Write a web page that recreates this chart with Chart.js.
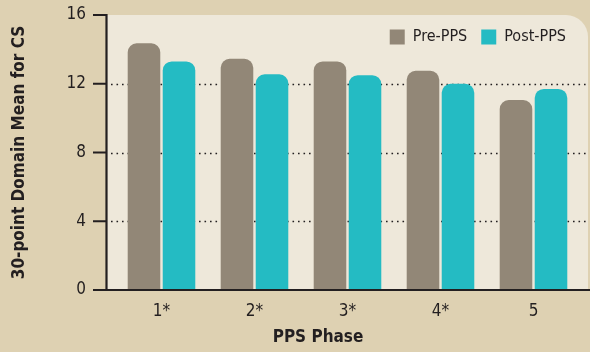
<!DOCTYPE html>
<html lang="en">
<head>
<meta charset="UTF-8">
<title>CS Domain Mean by PPS Phase</title>
<script src="https://cdn.jsdelivr.net/npm/chart.js"></script>
<style>
  body { margin: 0; background: #ded1b2; }
  #wrap { width: 590px; height: 352px; }
</style>
</head>
<body>
<div id="wrap"><canvas id="ppsChart" width="590" height="352"></canvas></div>
<script>
// phases, means before and after PPS, and the value axis ticks
const phases = ['1*', '2*', '3*', '4*', '5'];
const prePPS = [14.35, 13.45, 13.3, 12.75, 11.05];
const postPPS = [13.3, 12.55, 12.5, 12.0, 11.7];
const yTicks = [0, 4, 8, 12, 16];

const FONT = "'Liberation Sans Narrow', 'DejaVu Sans Condensed', sans-serif";
const INK = '#231f20';

// let the legend take no room at the top so it sits inside the plot panel
const legendInside = {
  id: 'legendInside',
  beforeInit(chart) {
    const legend = chart.legend;
    const fit = legend.fit;
    legend.fit = function () {
      fit.call(this);
      this._fullHeight = this.height;
      this.height = 0;
    };
  },
  afterLayout(chart) {
    const legend = chart.legend;
    legend.height = legend._fullHeight;
    legend.bottom = legend.top + legend.height;
  }
};

// panel background, dotted guides, hand drawn axis lines and the x title
const panelPlugin = {
  id: 'panel',
  beforeDraw(chart) {
    const ctx = chart.ctx, area = chart.chartArea, y = chart.scales.y;
    const left = area.left - 8, right = chart.width - 2, r = 22;
    ctx.save();
    ctx.fillStyle = '#ded1b2';
    ctx.fillRect(0, 0, chart.width, chart.height);
    ctx.fillStyle = '#eee8da';
    ctx.beginPath();
    ctx.moveTo(left, area.bottom);
    ctx.lineTo(left, area.top);
    ctx.lineTo(right - r, area.top);
    ctx.arcTo(right, area.top, right, area.top + r, r);
    ctx.lineTo(right, area.bottom);
    ctx.closePath();
    ctx.fill();

    ctx.strokeStyle = INK;
    ctx.lineWidth = 1.6;
    ctx.setLineDash([1.6, 3.9]);
    yTicks.slice(1, -1).forEach(v => {
      const py = Math.round(y.getPixelForValue(v)) + 0.5;
      ctx.beginPath();
      ctx.moveTo(left + 4, py);
      ctx.lineTo(right, py);
      ctx.stroke();
    });
    ctx.restore();
  },
  afterDatasetsDraw(chart) {
    const ctx = chart.ctx, area = chart.chartArea, y = chart.scales.y;
    const axisX = area.left - 8.5, tickStart = area.left - 22;
    ctx.save();
    ctx.strokeStyle = INK;
    ctx.lineWidth = 2.2;
    ctx.beginPath();
    ctx.moveTo(axisX, area.top - 1);
    ctx.lineTo(axisX, area.bottom);
    ctx.moveTo(tickStart, area.bottom);
    ctx.lineTo(chart.width, area.bottom);
    yTicks.slice(1).forEach(v => {
      const py = y.getPixelForValue(v);
      ctx.moveTo(tickStart, py);
      ctx.lineTo(axisX, py);
    });
    ctx.stroke();

    ctx.fillStyle = INK;
    ctx.font = 'bold 17px ' + FONT;
    ctx.textAlign = 'center';
    ctx.textBaseline = 'middle';
    ctx.fillText('PPS Phase', 318, 338);
    ctx.restore();
  }
};

new Chart(document.getElementById('ppsChart'), {
  type: 'bar',
  data: {
    labels: phases,
    datasets: [
      { label: 'Pre-PPS', data: prePPS, backgroundColor: '#928777' },
      { label: 'Post-PPS', data: postPPS, backgroundColor: '#24bbc3' }
    ]
  },
  options: {
    responsive: false,
    animation: false,
    layout: { padding: { top: 15, right: 10, left: 0, bottom: 0 } },
    datasets: {
      bar: { barPercentage: 0.93, categoryPercentage: 0.753, borderRadius: 9 }
    },
    scales: {
      x: {
        grid: { display: false, drawTicks: false },
        border: { display: false },
        ticks: { color: INK, padding: 11, font: { family: FONT, size: 17 } },
        afterFit(scale) { scale.height = 62; }
      },
      y: {
        min: 0,
        max: 16,
        grid: { display: false, drawTicks: false },
        border: { display: false },
        afterBuildTicks(scale) { scale.ticks = yTicks.map(v => ({ value: v })); },
        ticks: { color: INK, padding: 29, font: { family: FONT, size: 17 } },
        title: {
          display: true,
          text: '30-point Domain Mean for CS',
          color: INK,
          padding: { top: 9, bottom: 0 },
          font: { family: FONT, size: 17, weight: 'bold' }
        },
        afterFit(scale) {
          scale.width = 115;
          scale.paddingTop = 0;
          scale.paddingBottom = 0;
        }
      }
    },
    plugins: {
      legend: {
        position: 'top',
        align: 'end',
        labels: {
          color: INK,
          boxWidth: 15,
          boxHeight: 15,
          padding: 14,
          font: { family: FONT, size: 16 }
        }
      },
      tooltip: { enabled: false }
    }
  },
  plugins: [legendInside, panelPlugin]
});
</script>
</body>
</html>
